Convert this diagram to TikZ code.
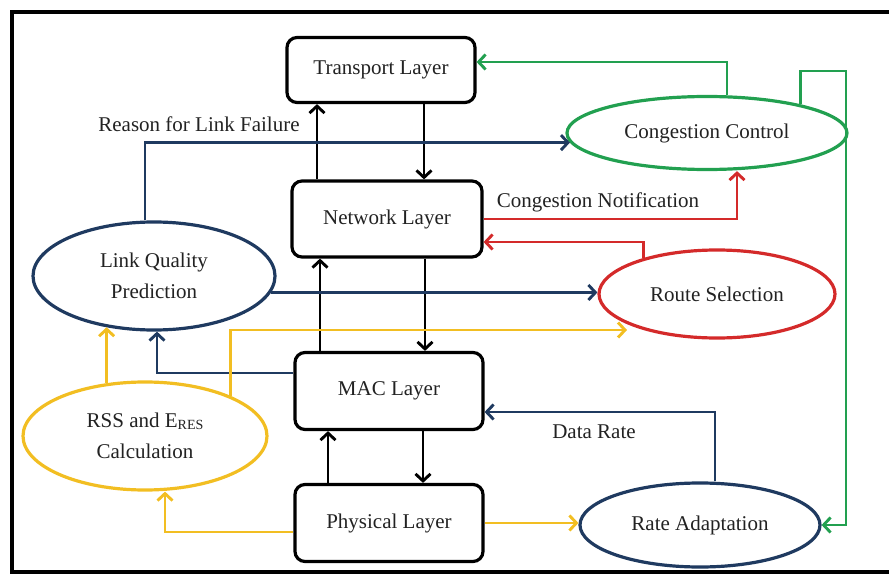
\documentclass[tikz,border=0pt]{standalone}
\usepackage{fontspec}
\setmainfont{Liberation Serif}
\usetikzlibrary{arrows.meta,shapes.geometric}

\definecolor{navy}{HTML}{1F3A60}
\definecolor{gold}{HTML}{F2BE22}
\definecolor{crimson}{HTML}{D42A2A}
\definecolor{leaf}{HTML}{22A050}
\definecolor{ink}{HTML}{222222}

\tikzset{
  x=1pt, y=-1pt,
  every node/.style={font=\fontsize{21}{31}\selectfont, text=ink},
  layerbox/.style={draw=black, line width=3.2pt, rounded corners=10pt,
    fill=white, inner sep=0pt},
  oval/.style={ellipse, line width=3.2pt, fill=white, inner sep=0pt, align=center},
  tag/.style={inner sep=1pt},
  link/.style={line width=2.9pt, -{Straight Barb[length=7pt,width=15pt,line width=2.9pt]}},
}

\begin{document}
\begin{tikzpicture}
\useasboundingbox (0,0) rectangle (889,575);
\clip (0,0) rectangle (889,575);

% outer frame, open on the right
\draw[line width=3.8pt] (900,12) -- (12,12) -- (12,572) -- (900,572);

% protocol stack
\node[layerbox, minimum width=188pt, minimum height=65pt] (tl)  at (381,70)  {Transport Layer};
\node[layerbox, minimum width=190pt, minimum height=76pt] (nl)  at (387,219) {Network Layer};
\node[layerbox, minimum width=188pt, minimum height=77pt] (mac) at (389,391) {MAC Layer};
\node[layerbox, minimum width=188pt, minimum height=77pt] (phy) at (389,523) {Physical Layer};

% functional modules
\node[oval, draw=leaf,    minimum width=280pt, minimum height=73pt]  (cc)  at (707,133) {Congestion Control};
\node[oval, draw=crimson, minimum width=236pt, minimum height=88pt]  (rs)  at (717,294) {Route Selection};
\node[oval, draw=navy,    minimum width=240pt, minimum height=84pt]  (ra)  at (700,525) {Rate Adaptation};
\node[oval, draw=navy,    minimum width=242pt, minimum height=108pt] (lqp) at (154,276) {Link Quality\\Prediction};
\node[oval, draw=gold,    minimum width=244pt, minimum height=108pt] (rss) at (145,436)
  {RSS and E{\fontsize{14}{14}\selectfont\raisebox{-2pt}{RES}}\\Calculation};

% vertical flow through the stack
\draw[link] ([xshift=-70pt]nl.north)  -- ([xshift=-64pt]tl.south);
\draw[link] ([xshift=43pt]tl.south)   -- ([xshift=37pt]nl.north);
\draw[link] ([xshift=-69pt]mac.north) -- ([xshift=-67pt]nl.south);
\draw[link] ([xshift=38pt]nl.south)   -- ([xshift=36pt]mac.north);
\draw[link] ([xshift=-61pt]phy.north) -- ([xshift=-61pt]mac.south);
\draw[link] ([xshift=34pt]mac.south)  -- ([xshift=34pt]phy.north);

% link quality prediction paths
\draw[link, navy] ([xshift=-9pt]lqp.north) |- (cc.184);
\node[tag] (rlf) at (199,124) {Reason for Link Failure};
\draw[link, navy] (lqp.-8) -- (lqp.-8 -| rs.west);
\draw[link, navy] ([yshift=18pt]mac.west) -| ([xshift=3pt]lqp.south);

% rate adaptation feedback
\draw[link, navy] ([xshift=15pt]ra.north) |- ([yshift=-21pt]mac.east);
\node[tag] (dr) at (594,432) {Data Rate};

% RSS and residual energy paths
\coordinate (rsin) at (627,330);
\draw[link, gold] (rss.126) -- (rss.126 |- lqp.227);
\draw[link, gold] (rss.25) |- (rsin);
\draw[link, gold] ([yshift=-9pt]phy.west) -| ([xshift=20pt]rss.south);
\draw[link, gold] (phy.east) -- (phy.east -| ra.west);

% congestion notification and route selection
\draw[link, crimson] (nl.east) -| ([xshift=30pt]cc.south);
\node[tag] (cn) at (598,202) {Congestion Notification};
\draw[link, crimson] (rs.154) |- ([yshift=-23pt]nl.east);

% congestion control outputs
\coordinate (gturn) at (846,71);
\draw[link, leaf] ([xshift=20pt]cc.north) |- ([yshift=8pt]tl.east);
\draw[link, leaf] (cc.17) |- (gturn) |- (ra.east);
\end{tikzpicture}
\end{document}
